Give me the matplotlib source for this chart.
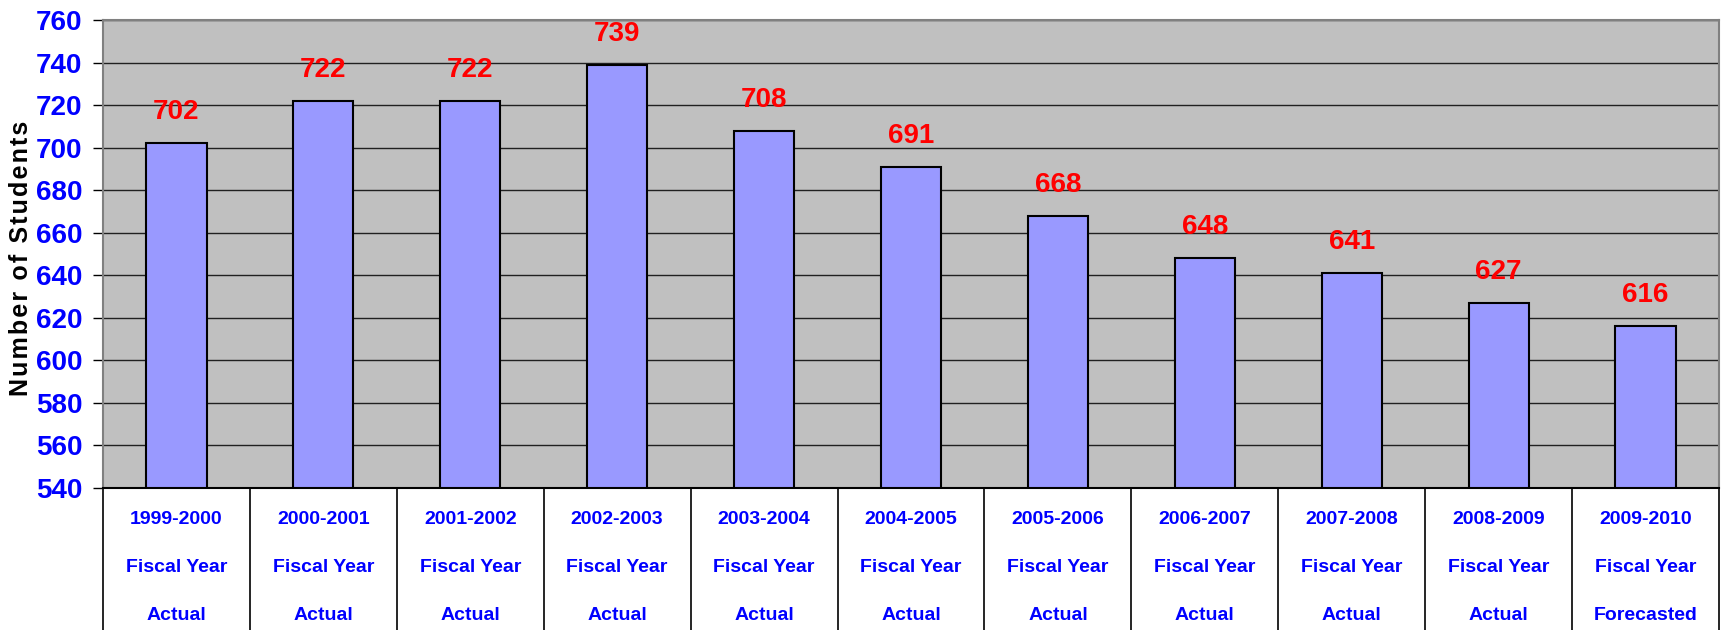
import matplotlib
matplotlib.use("Agg")
import matplotlib.pyplot as plt
import matplotlib.transforms as mtransforms
from matplotlib.lines import Line2D

# ---------------------------------------------------------------------------
# Data
# ---------------------------------------------------------------------------
YEARS = ["1999-2000", "2000-2001", "2001-2002", "2002-2003", "2003-2004", "2004-2005",
         "2005-2006", "2006-2007", "2007-2008", "2008-2009", "2009-2010"]
STATUS = ["Actual"] * 10 + ["Forecasted"]
STUDENTS = [702, 722, 722, 739, 708, 691, 668, 648, 641, 627, 616]
Y_TICKS = list(range(540, 761, 20))

NARROW = ["Liberation Sans Narrow", "Liberation Sans", "DejaVu Sans"]
BLUE = "#0000FF"

fig = plt.figure(figsize=(17.26, 6.30), dpi=100)
W, H = 1726, 630
left, right, top, bottom = 103, 1719, 20, 488
ax = fig.add_axes([left / W, 1 - bottom / H, (right - left) / W, (bottom - top) / H])
ax.set_facecolor("#C0C0C0")

x = list(range(len(STUDENTS)))
ax.bar(x, [v - 540 for v in STUDENTS], bottom=540, width=0.41,
       color="#9999FF", edgecolor="black", linewidth=1.5, zorder=3)

for xi, v in zip(x, STUDENTS):
    ax.annotate(str(v), (xi, v), xytext=(0, 13), textcoords="offset points",
                ha="center", va="bottom", color="red", fontsize=20,
                fontweight="bold", family=NARROW, zorder=4)

ax.set_xlim(-0.5, len(STUDENTS) - 0.5)
ax.set_ylim(540, 760)
ax.set_yticks(Y_TICKS)
ax.set_yticklabels([str(t) for t in Y_TICKS], color=BLUE, fontsize=20,
                   fontweight="bold", family=NARROW)
ax.tick_params(axis="y", length=7, width=1, color="black", pad=8)
ax.set_xticks([])
ax.grid(axis="y", color="#202020", linewidth=1, zorder=1)

for side in ("top", "right", "left"):
    ax.spines[side].set_color("#808080")
    ax.spines[side].set_linewidth(1.5)
ax.spines["bottom"].set_color("black")
ax.spines["bottom"].set_linewidth(1.5)

ax.set_ylabel("\u200a".join("Number of Students"), fontsize=18, fontweight="bold",
              family=["Liberation Sans", "DejaVu Sans"])
ax.yaxis.set_label_coords(-0.0433, 0.49)

# category table below the axis
trans = mtransforms.blended_transform_factory(ax.transData, ax.transAxes)
depth = (H - bottom) / (bottom - top)
for b in range(len(STUDENTS) + 1):
    ax.add_line(Line2D([b - 0.5, b - 0.5], [0, -depth], transform=trans,
                       color="black", linewidth=1.2, clip_on=False))

row_y = [(520 - bottom), (567 - bottom), (615 - bottom)]
for xi, (yr, st) in enumerate(zip(YEARS, STATUS)):
    for ry, txt in zip(row_y, [yr, "Fiscal Year", st]):
        ax.text(xi, -ry / (bottom - top), txt, transform=trans, ha="center",
                va="center", color=BLUE, fontsize=14, fontweight="bold",
                family=NARROW)

fig.savefig("out.png", dpi=100)
